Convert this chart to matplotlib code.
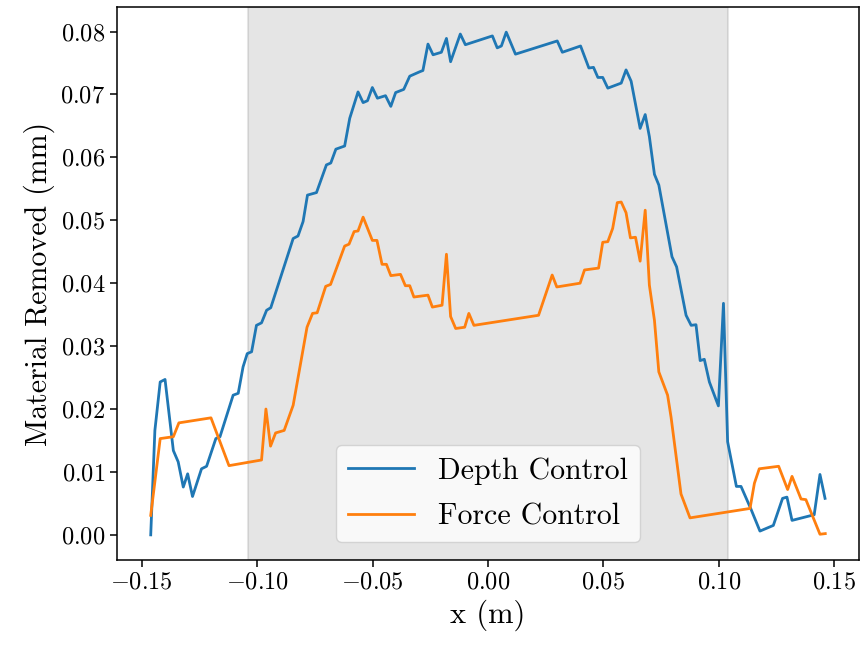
import matplotlib
matplotlib.use("Agg")
import matplotlib.pyplot as plt

plt.rcParams['font.family'] = 'serif'
plt.rcParams['font.serif'] = ['cmr10']
plt.rcParams['mathtext.fontset'] = 'cm'
plt.rcParams['axes.formatter.use_mathtext'] = True
plt.rcParams['axes.unicode_minus'] = True

depth_x = [-0.1461, -0.1443, -0.1420, -0.1399, -0.1363, -0.1342, -0.1320, -0.1301, -0.1280,
           -0.1241, -0.1219, -0.1179, -0.1161, -0.1104, -0.1082, -0.1061, -0.1043, -0.1024,
           -0.1003, -0.0981, -0.0959, -0.0941, -0.0844, -0.0823, -0.0801, -0.0782, -0.0743,
           -0.0700, -0.0681, -0.0659, -0.0621, -0.0599, -0.0563, -0.0541, -0.0522, -0.0501,
           -0.0479, -0.0444, -0.0421, -0.0400, -0.0365, -0.0339, -0.0296, -0.0282, -0.0260,
           -0.0238, -0.0202, -0.0180, -0.0162, -0.0120, -0.0098, 0.0019, 0.0040, 0.0058,
           0.0079, 0.0119, 0.0300, 0.0322, 0.0401, 0.0437, 0.0457, 0.0476, 0.0497, 0.0519,
           0.0577, 0.0598, 0.0620, 0.0659, 0.0681, 0.0699, 0.0721, 0.0740, 0.0797, 0.0817,
           0.0858, 0.0880, 0.0901, 0.0919, 0.0937, 0.0959, 0.0998, 0.1020, 0.1038, 0.1076,
           0.1096, 0.1139, 0.1178, 0.1236, 0.1276, 0.1295, 0.1317, 0.1413, 0.1438, 0.1460]
depth_y = [0.0000, 0.0166, 0.0243, 0.0247, 0.0134, 0.0116, 0.0076, 0.0097, 0.0061,
           0.0105, 0.0109, 0.0153, 0.0156, 0.0222, 0.0225, 0.0267, 0.0288, 0.0291,
           0.0333, 0.0337, 0.0357, 0.0361, 0.0471, 0.0475, 0.0498, 0.0540, 0.0544,
           0.0588, 0.0591, 0.0613, 0.0618, 0.0662, 0.0704, 0.0687, 0.0690, 0.0711,
           0.0694, 0.0698, 0.0681, 0.0703, 0.0708, 0.0729, 0.0736, 0.0738, 0.0780,
           0.0763, 0.0767, 0.0789, 0.0752, 0.0796, 0.0779, 0.0793, 0.0774, 0.0777,
           0.0799, 0.0764, 0.0785, 0.0767, 0.0777, 0.0742, 0.0743, 0.0727, 0.0727, 0.0710,
           0.0718, 0.0739, 0.0721, 0.0646, 0.0668, 0.0633, 0.0573, 0.0556, 0.0442, 0.0426,
           0.0349, 0.0333, 0.0334, 0.0277, 0.0279, 0.0243, 0.0205, 0.0368, 0.0148, 0.0077,
           0.0077, 0.0041, 0.0006, 0.0015, 0.0058, 0.0060, 0.0023, 0.0032, 0.0096, 0.0058]

force_x = [-0.1461, -0.1420, -0.1363, -0.1339, -0.1200, -0.1122, -0.0981, -0.0962, -0.0942,
           -0.0920, -0.0883, -0.0844, -0.0784, -0.0760, -0.0740, -0.0703, -0.0682, -0.0621,
           -0.0602, -0.0580, -0.0563, -0.0541, -0.0501, -0.0481, -0.0459, -0.0440, -0.0421,
           -0.0379, -0.0358, -0.0339, -0.0321, -0.0260, -0.0241, -0.0199, -0.0180, -0.0162,
           -0.0140, -0.0101, -0.0083, -0.0061, 0.0219, 0.0278, 0.0298, 0.0399, 0.0418,
           0.0479, 0.0497, 0.0519, 0.0540, 0.0560, 0.0577, 0.0598, 0.0617, 0.0639, 0.0659,
           0.0681, 0.0699, 0.0721, 0.0740, 0.0778, 0.0793, 0.0836, 0.0875, 0.1135, 0.1154,
           0.1175, 0.1259, 0.1298, 0.1317, 0.1356, 0.1377, 0.1438, 0.1461]
force_y = [0.0031, 0.0153, 0.0156, 0.0178, 0.0186, 0.0110, 0.0119, 0.0200, 0.0141,
           0.0162, 0.0166, 0.0206, 0.0330, 0.0352, 0.0353, 0.0395, 0.0398, 0.0459,
           0.0462, 0.0482, 0.0483, 0.0505, 0.0468, 0.0468, 0.0430, 0.0430, 0.0412,
           0.0414, 0.0396, 0.0396, 0.0378, 0.0381, 0.0362, 0.0365, 0.0446, 0.0347,
           0.0328, 0.0330, 0.0352, 0.0333, 0.0349, 0.0413, 0.0394, 0.0400, 0.0421,
           0.0424, 0.0465, 0.0466, 0.0487, 0.0528, 0.0529, 0.0512, 0.0472, 0.0473, 0.0435,
           0.0516, 0.0397, 0.0341, 0.0259, 0.0222, 0.0187, 0.0065, 0.0027, 0.0042, 0.0082,
           0.0105, 0.0109, 0.0072, 0.0093, 0.0057, 0.0056, 0.0001, 0.0002]

span_lo, span_hi = -0.104, 0.104

fig = plt.figure(figsize=(8.63, 6.45), dpi=100)
ax = fig.add_axes([117/863, 85/645, (859-117)/863, (560-7)/645])

ax.axvspan(span_lo, span_hi, color='gray', alpha=0.2, lw=1.5)
ax.plot(depth_x, depth_y, color='#1f77b4', lw=2.0, label='Depth Control')
ax.plot(force_x, force_y, color='#ff7f0e', lw=2.0, label='Force Control')

ax.set_xlabel('x (m)', fontsize=22)
ax.set_ylabel('Material Removed (mm)', fontsize=21.5)
ax.tick_params(labelsize=17.5, length=5, width=1.1)
for s in ax.spines.values():
    s.set_linewidth(1.1)
ax.legend(loc='lower center', fontsize=21.5, handlelength=2.2, labelspacing=0.6,
          borderaxespad=0.6)

fig.savefig('out.png', dpi=100)
